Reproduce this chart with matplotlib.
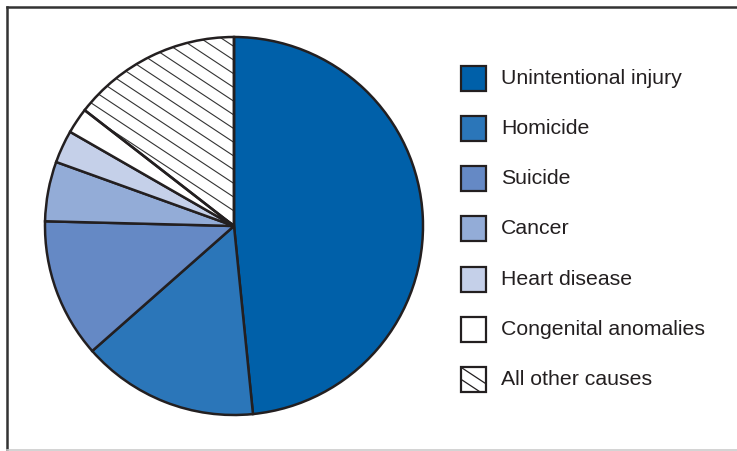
import numpy as np
import matplotlib
matplotlib.use("Agg")
import matplotlib.pyplot as plt
from matplotlib.patches import Rectangle
from matplotlib.lines import Line2D

# Leading causes of death, share of all deaths (%)
causes = ["Unintentional injury", "Homicide", "Suicide", "Cancer",
          "Heart disease", "Congenital anomalies", "All other causes"]
shares = [48.4, 15.1, 11.9, 5.1, 2.8, 2.2, 14.5]
colors = ["#0060a9", "#2b76b9", "#6589c5", "#93acd7", "#c5d0e9", "#ffffff", "#ffffff"]
hatched = [False, False, False, False, False, False, True]

plt.rcParams["font.family"] = ["Liberation Sans", "DejaVu Sans"]

W, H = 737, 451
fig = plt.figure(figsize=(W / 100, H / 100), dpi=100)
ax = fig.add_axes([0, 0, 1, 1])

cx, cy, r = 234, H - 226, 189
edge = "#231f20"
wedges, _ = ax.pie(shares, colors=colors, startangle=90, counterclock=False,
                   center=(cx, cy), radius=r, frame=True,
                   wedgeprops=dict(edgecolor=edge, linewidth=1.8))
ax.set_xlim(0, W)
ax.set_ylim(0, H)
ax.set_aspect("equal")
ax.axis("off")

# Diagonal hatching, clipped to the hatched wedge(s)
slope, step = 0.66, 13.7
for w, h in zip(wedges, hatched):
    w.set_zorder(3)
    if not h:
        continue
    for c in np.arange(cy - r, cy + r + slope * 2 * r, step):
        xs = np.array([cx - r, cx + r])
        ys = c - slope * (xs - (cx - r))
        ln = Line2D(xs, ys, color="#333333", lw=0.8, zorder=2.5)
        ax.add_line(ln)
        ln.set_clip_path(w)
    w.set_facecolor("none")

# Legend
box = 25
lx, ty0, dy = 461, 78, 50.3
for i, (name, col, h) in enumerate(zip(causes, colors, hatched)):
    yc = H - (ty0 + i * dy)
    top = yc + box / 2
    rect = Rectangle((lx, yc - box / 2), box, box, facecolor=col,
                     edgecolor=edge, lw=1.6, zorder=5)
    ax.add_patch(rect)
    if h:
        for off in (0, 12):
            x0, x1 = lx - 2, lx + box + 2
            ln = Line2D([x0, x1],
                        [top - off + slope * 2, top - off - slope * (box + 2)],
                        color=edge, lw=0.9, zorder=6)
            ax.add_line(ln)
            ln.set_clip_path(rect)
    ax.text(501, yc, name, fontsize=15.3, va="center", ha="left", color=edge)

# Panel frame: dark top and left rules, light bottom rule
fig.add_artist(Line2D([7 / W, 1], [1 - 7 / H, 1 - 7 / H], color="#333333",
                      lw=1.8, transform=fig.transFigure))
fig.add_artist(Line2D([7 / W, 7 / W], [0, 1 - 7 / H], color="#333333",
                      lw=1.8, transform=fig.transFigure))
fig.add_artist(Line2D([7 / W, 1], [1.5 / H, 1.5 / H], color="#cccccc",
                      lw=1.2, transform=fig.transFigure))

fig.savefig("out.png", dpi=100)
